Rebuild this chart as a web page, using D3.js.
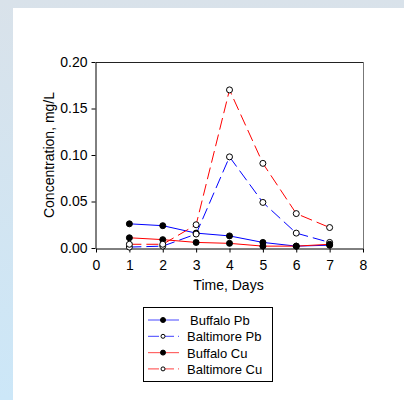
<!DOCTYPE html>
<html>
<head>
<meta charset="utf-8">
<script src="https://cdn.jsdelivr.net/npm/d3@7"></script>
<style>
  body { margin: 0; padding: 0; }
  svg text { font-family: "Liberation Sans", Arial, sans-serif; fill: #000; }
</style>
</head>
<body>
<div class="chart"></div>
<script>
// data
const days = [1, 2, 3, 4, 5, 6, 7];
const buffaloPb = [0.026, 0.024, 0.016, 0.013, 0.006, 0.002, 0.003];
const baltimorePb = [0.001, 0.002, 0.015, 0.098, 0.049, 0.016, 0.006];
const buffaloCu = [0.011, 0.009, 0.006, 0.005, 0.002, 0.002, 0.004];
const baltimoreCu = [0.004, 0.004, 0.025, 0.170, 0.091, 0.037, 0.022];
const xTicks = [0, 1, 2, 3, 4, 5, 6, 7, 8];
const yTicks = [0, 0.05, 0.10, 0.15, 0.20];

const series = [
  {name: "Buffalo Pb", values: buffaloPb, color: "#0000ff", dash: null, open: false},
  {name: "Baltimore Pb", values: baltimorePb, color: "#0000ff", dash: "12,5", open: true},
  {name: "Buffalo Cu", values: buffaloCu, color: "#ff0000", dash: null, open: false},
  {name: "Baltimore Cu", values: baltimoreCu, color: "#ff0000", dash: "12,5", open: true}
];

const W = 404, H = 400;
const svg = d3.select(".chart").append("svg")
    .attr("width", W)
    .attr("height", H);

// page background
const defs = svg.append("defs");
const grad = defs.append("linearGradient")
    .attr("id", "bg").attr("x1", 0).attr("y1", 0).attr("x2", 0).attr("y2", 1);
grad.append("stop").attr("offset", "0%").attr("stop-color", "#d9e2ea");
grad.append("stop").attr("offset", "100%").attr("stop-color", "#cce7f8");
svg.append("rect").attr("width", W).attr("height", H).attr("fill", "url(#bg)");
svg.append("rect").attr("x", 13).attr("y", 8).attr("width", W - 13).attr("height", H - 8).attr("fill", "#fff");

const plot = {left: 96, top: 62, right: 363, bottom: 248};

const x = d3.scaleLinear().domain([0, 8]).range([plot.left, plot.right]);
const y = d3.scaleLinear().domain([0, 0.2]).range([plot.bottom, plot.top]);

// frame: top and right
svg.append("line")
    .attr("x1", plot.left).attr("x2", plot.right)
    .attr("y1", plot.top + 0.5).attr("y2", plot.top + 0.5)
    .attr("stroke", "#222");
svg.append("line")
    .attr("x1", plot.right + 0.5).attr("x2", plot.right + 0.5)
    .attr("y1", plot.top).attr("y2", plot.bottom)
    .attr("stroke", "#777");

const xAxis = d3.axisBottom(x).tickValues(xTicks).tickFormat(d3.format("d"))
    .tickSizeInner(4).tickSizeOuter(0).tickPadding(8);
const yAxis = d3.axisLeft(y).tickValues(yTicks).tickFormat(d3.format(".2f"))
    .tickSizeInner(4).tickSizeOuter(0).tickPadding(4);

const gx = svg.append("g")
    .attr("class", "axis x-axis")
    .attr("transform", `translate(0, ${plot.bottom + 0.5})`)
    .call(xAxis);
const gy = svg.append("g")
    .attr("class", "axis y-axis")
    .attr("transform", `translate(${plot.left - 0.5}, 0)`)
    .call(yAxis);

[gx, gy].forEach(g => {
  g.attr("font-size", null).attr("font-family", null);
  g.selectAll("path").attr("stroke", "#000");
  g.selectAll("line").attr("stroke", "#000");
  g.selectAll("text").style("font-size", "14px");
});

// axis titles
svg.append("text")
    .attr("x", (plot.left + plot.right) / 2 - 1)
    .attr("y", 290)
    .attr("text-anchor", "middle")
    .style("font-size", "14px")
    .text("Time, Days");

svg.append("text")
    .attr("transform", `translate(54, ${(plot.top + plot.bottom) / 2}) rotate(-90)`)
    .attr("text-anchor", "middle")
    .style("font-size", "14px")
    .text("Concentration, mg/L");

// lines and markers
const line = d3.line()
    .x((d, i) => x(days[i]))
    .y(d => y(d));

series.forEach(s => {
  svg.append("path")
      .datum(s.values)
      .attr("d", line)
      .attr("fill", "none")
      .attr("stroke", s.color)
      .attr("stroke-width", 1)
      .attr("stroke-dasharray", s.dash);
});

series.forEach(s => {
  svg.selectAll(null)
      .data(s.values)
      .enter()
      .append("circle")
      .attr("cx", (d, i) => x(days[i]))
      .attr("cy", d => y(d))
      .attr("r", 3)
      .attr("fill", s.open ? "#fff" : "#000")
      .attr("stroke", "#000")
      .attr("stroke-width", 1);
});

// legend
const legend = svg.append("g").attr("transform", "translate(143, 307)");
legend.append("rect")
    .attr("x", 0.5).attr("y", 0.5)
    .attr("width", 129).attr("height", 74)
    .attr("fill", "#fff")
    .attr("stroke", "#000");

series.forEach((s, i) => {
  const yy = 13 + i * 16.3;
  legend.append("line")
      .attr("x1", 5).attr("x2", 36)
      .attr("y1", yy).attr("y2", yy)
      .attr("stroke", s.color)
      .attr("stroke-opacity", 0.6)
      .attr("stroke-width", 1.2)
      .attr("stroke-dasharray", s.dash ? "11,4" : null);
  legend.append("circle")
      .attr("cx", 20).attr("cy", yy)
      .attr("r", s.open ? 2 : 2.5)
      .attr("fill", s.open ? "#fff" : "#000")
      .attr("stroke", "#000")
      .attr("stroke-width", 1);
  legend.append("text")
      .attr("x", i == 0 ? 47 : 44)
      .attr("y", yy + 5)
      .style("font-size", "13px")
      .text(s.name);
});
</script>
</body>
</html>
